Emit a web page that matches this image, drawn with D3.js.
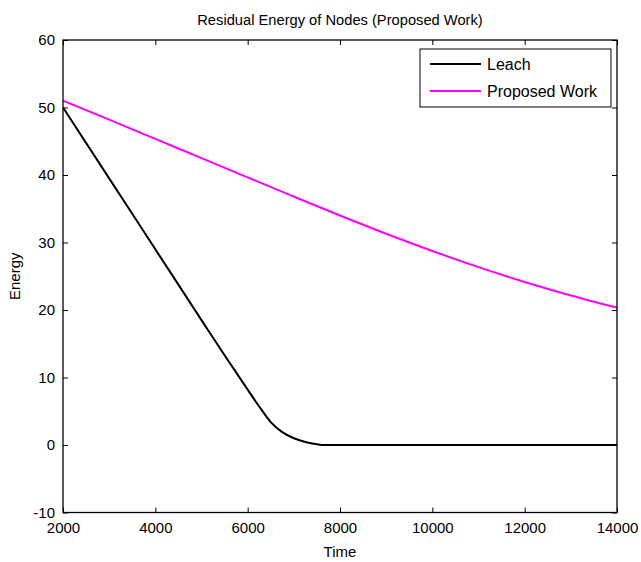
<!DOCTYPE html>
<html>
<head>
<meta charset="utf-8">
<script src="https://cdn.jsdelivr.net/npm/d3@7"></script>
<style>
  body { margin: 0; background: #fff; }
  svg text { font-family: "Liberation Sans", Arial, sans-serif; fill: #000; }
</style>
</head>
<body>
<div id="chart"></div>
<script>
// Values
const times = [2000, 3000, 4000, 5000, 5500, 6000, 6250, 6500, 6750, 7000, 7250, 7500, 7600, 8000, 10000, 12000, 14000];
const leach = [50, 39.5, 29, 18.5, 13.3, 8.2, 5.7, 3.4, 1.9, 1.0, 0.45, 0.1, 0, 0, 0, 0, 0];

const proposedTimes = [2000, 3000, 4000, 5000, 6000, 7000, 8000, 9000, 10000, 11000, 12000, 13000, 14000];
const proposed = [51, 48.2, 45.35, 42.5, 39.65, 36.8, 34.0, 31.3, 28.75, 26.35, 24.15, 22.15, 20.35];

const xTicks = [2000, 4000, 6000, 8000, 10000, 12000, 14000];
const yTicks = [-10, 0, 10, 20, 30, 40, 50, 60];

const seriesNames = ['Leach', 'Proposed Work'];
const seriesColors = ['#000000', '#ff00ff'];

const width = 641, height = 562;
const margin = { top: 40, right: 24, bottom: 49.5, left: 63 };
const plotW = width - margin.left - margin.right;
const plotH = height - margin.top - margin.bottom;
const fontSize = 15;

const svg = d3.select('#chart').append('svg')
    .attr('width', width)
    .attr('height', height);

const g = svg.append('g')
    .attr('transform', `translate(${margin.left},${margin.top})`);

const x = d3.scaleLinear().domain([2000, 14000]).range([0, plotW]);
const y = d3.scaleLinear().domain([-10, 60]).range([plotH, 0]);

svg.append('defs').append('clipPath').attr('id', 'clip')
    .append('rect').attr('width', plotW).attr('height', plotH);

const series = [
    d3.zip(times, leach),
    d3.zip(proposedTimes, proposed)
];

// plain labels, hyphen minus like the original
const fmt = d => String(d);

// ticks point inwards on all four sides
const tickLen = 5;
g.append('g')
    .attr('transform', `translate(0,${plotH})`)
    .call(d3.axisBottom(x).tickValues(xTicks).tickFormat(fmt).tickSizeInner(-tickLen).tickSizeOuter(0).tickPadding(10))
    .call(a => a.select('.domain').remove());
g.append('g')
    .call(d3.axisTop(x).tickValues(xTicks).tickSizeInner(-tickLen).tickSizeOuter(0).tickFormat(''))
    .call(a => a.select('.domain').remove());
g.append('g')
    .call(d3.axisLeft(y).tickValues(yTicks).tickFormat(fmt).tickSizeInner(-tickLen).tickSizeOuter(0).tickPadding(8))
    .call(a => a.select('.domain').remove());
g.append('g')
    .attr('transform', `translate(${plotW},0)`)
    .call(d3.axisRight(y).tickValues(yTicks).tickSizeInner(-tickLen).tickSizeOuter(0).tickFormat(''))
    .call(a => a.select('.domain').remove());

g.selectAll('.tick line').attr('stroke', '#000').attr('stroke-width', 1);
g.selectAll('.tick text').attr('font-size', fontSize).attr('font-family', '"Liberation Sans", Arial, sans-serif');

g.append('g').attr('clip-path', 'url(#clip)')
    .selectAll('path.series')
    .data(series)
    .join('path')
    .attr('class', 'series')
    .attr('fill', 'none')
    .attr('stroke', (d, i) => seriesColors[i])
    .attr('stroke-width', 2)
    .attr('stroke-linejoin', 'round')
    .attr('d', d3.line().x(d => x(d[0])).y(d => y(d[1])).curve(d3.curveMonotoneX));

// box
g.append('rect')
    .attr('width', plotW)
    .attr('height', plotH)
    .attr('fill', 'none')
    .attr('stroke', '#000')
    .attr('stroke-width', 1.3);

// title and axis labels
svg.append('text')
    .attr('x', margin.left + plotW / 2)
    .attr('y', 25)
    .attr('text-anchor', 'middle')
    .attr('font-size', 14.7)
    .text('Residual Energy of Nodes (Proposed Work)');

svg.append('text')
    .attr('x', margin.left + plotW / 2)
    .attr('y', 557)
    .attr('text-anchor', 'middle')
    .attr('font-size', fontSize)
    .text('Time');

svg.append('text')
    .attr('transform', `translate(20,${margin.top + plotH / 2}) rotate(-90)`)
    .attr('text-anchor', 'middle')
    .attr('font-size', fontSize)
    .text('Energy');

// legend
const legend = svg.append('g').attr('transform', 'translate(420,49)');
legend.append('rect')
    .attr('width', 191)
    .attr('height', 58)
    .attr('fill', '#fff')
    .attr('stroke', '#000')
    .attr('stroke-width', 1);

seriesNames.forEach((name, i) => {
    const row = legend.append('g').attr('transform', `translate(0,${15 + i * 27})`);
    row.append('line')
        .attr('x1', 10).attr('x2', 61)
        .attr('y1', 0).attr('y2', 0)
        .attr('stroke', seriesColors[i])
        .attr('stroke-width', 2);
    row.append('text')
        .attr('x', 67)
        .attr('y', 5.5)
        .attr('font-size', 16)
        .text(name);
});
</script>
</body>
</html>
